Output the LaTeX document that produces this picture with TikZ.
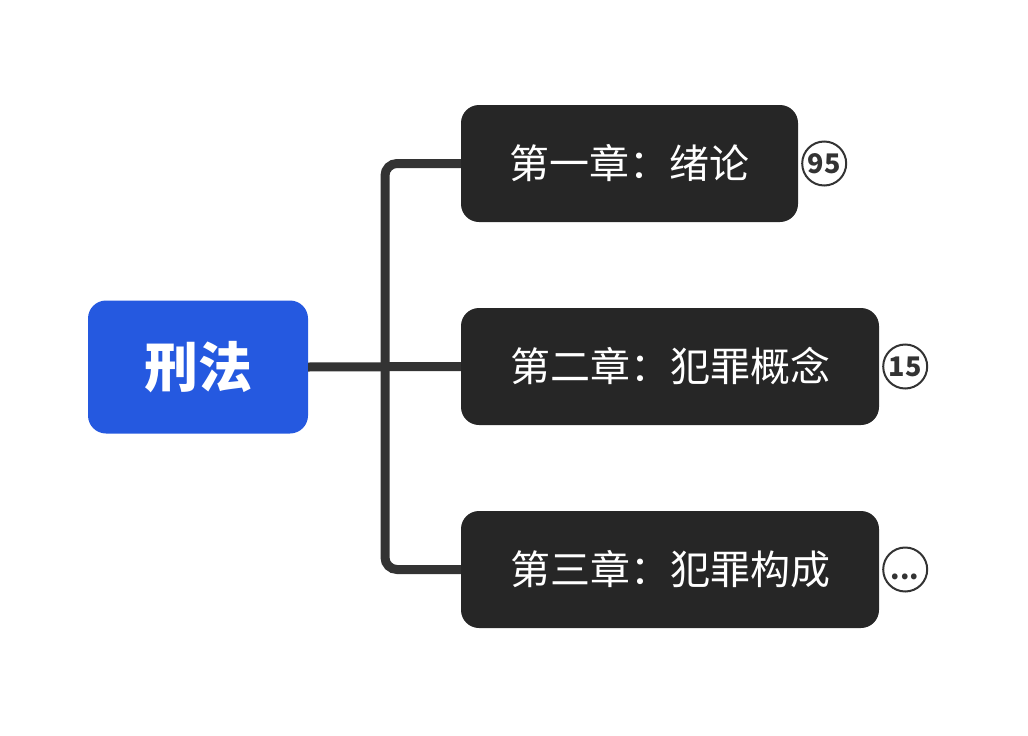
\documentclass[tikz,border=0pt]{standalone}
\usepackage{fontspec}
\setmainfont{Noto Sans CJK SC}
\usetikzlibrary{positioning}
\definecolor{rootblue}{HTML}{2559E0}
\definecolor{chapdark}{HTML}{262626}
\definecolor{linkgray}{HTML}{333333}
\tikzstyle{root} = [rectangle, rounded corners=18pt, minimum width=220pt, minimum height=133pt, text centered, fill=rootblue, text=white, font=\fontsize{54}{60}\selectfont\bfseries]
\tikzstyle{chapter} = [rectangle, rounded corners=18pt, minimum height=117pt, text centered, fill=chapdark, text=white, font=\fontsize{40}{46}\selectfont]
\tikzstyle{badge} = [circle, minimum size=44pt, inner sep=0pt, draw=linkgray, line width=2pt, text=linkgray, font=\fontsize{27}{30}\selectfont\bfseries]
\tikzstyle{link} = [line width=9pt, draw=linkgray, rounded corners=12pt]

\begin{document}
\begin{tikzpicture}[x=1pt, y=-1pt]
    \useasboundingbox (0,0) rectangle (1028,736);
    \node (law) [root] at (198,367) {刑法};
    \node (ch1) [chapter, minimum width=337pt] at (629.5,163.5) {第一章：绪论};
    \node (ch2) [chapter, minimum width=418pt] at (670,366.5) {第二章：犯罪概念};
    \node (ch3) [chapter, minimum width=418pt] at (670,569.5) {第三章：犯罪构成};

    \node (b1) [badge, right=3pt of ch1] {95};
    \node (b2) [badge, right=3pt of ch2] {15};
    \node (b3) [badge, right=3pt of ch3] {\vphantom{0}...};

    \coordinate (bus) at (385,366.5);
    \draw [link] (law.east) -- (ch2.west);
    \draw [link] (ch1.west) -| (bus) |- (ch3.west);
\end{tikzpicture}
\end{document}
